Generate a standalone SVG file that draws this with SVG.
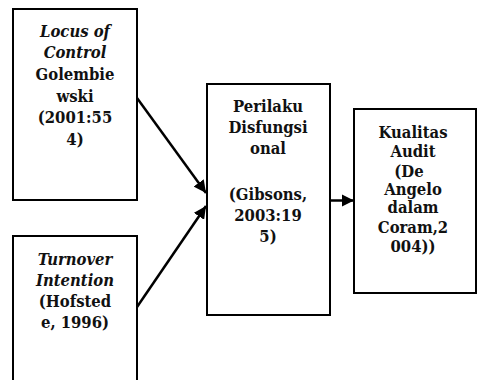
<svg xmlns="http://www.w3.org/2000/svg" width="477" height="380" viewBox="0 0 477 380">
<style>
.box{fill:#fff;stroke:#000;stroke-width:2}
.t{font-family:"DejaVu Serif Condensed","DejaVu Serif","Liberation Serif",serif;font-weight:bold;font-size:16.5px;fill:#111;text-anchor:middle}
.i{font-style:italic}
.c{stroke:#000;stroke-width:2.5;fill:none}
</style>
<defs>
<marker id="ah" viewBox="0 0 10 10" refX="10" refY="5" markerWidth="5" markerHeight="5" orient="auto" markerUnits="strokeWidth">
<path d="M0,0 L10,5 L0,10 z" fill="#000"/>
</marker>
</defs>
<g id="node-locus">
<rect class="box" x="13" y="9" width="124" height="191"/>
<text class="t"><tspan class="i" x="75" y="37">Locus of</tspan><tspan class="i" x="75" y="58">Control</tspan><tspan x="75" y="80">Golembie</tspan><tspan x="75" y="102">wski</tspan><tspan x="75" y="123">(2001:55</tspan><tspan x="75" y="145">4)</tspan></text>
</g>
<g id="node-turnover">
<rect class="box" x="13" y="236" width="124" height="160"/>
<text class="t"><tspan class="i" x="75" y="265">Turnover</tspan><tspan class="i" x="75" y="286">Intention</tspan><tspan x="75" y="307">(Hofsted</tspan><tspan x="75" y="328">e, 1996)</tspan></text>
</g>
<g id="node-perilaku">
<rect class="box" x="207" y="84" width="123" height="231"/>
<text class="t"><tspan x="268" y="112">Perilaku</tspan><tspan x="268" y="133">Disfungsi</tspan><tspan x="268" y="154">onal</tspan><tspan x="268" y="200">(Gibsons,</tspan><tspan x="268" y="221">2003:19</tspan><tspan x="268" y="242">5)</tspan></text>
</g>
<g id="node-kualitas">
<rect class="box" x="354" y="109" width="122" height="184"/>
<text class="t"><tspan x="413" y="138">Kualitas</tspan><tspan x="413" y="157">Audit</tspan><tspan x="409" y="177">(De</tspan><tspan x="413" y="195">Angelo</tspan><tspan x="413" y="213">dalam</tspan><tspan x="413" y="233">Coram,2</tspan><tspan x="413" y="252">004))</tspan></text>
</g>
<g id="connectors">
<line class="c" x1="137" y1="98" x2="206" y2="193" marker-end="url(#ah)"/>
<line class="c" x1="137" y1="307" x2="206" y2="206" marker-end="url(#ah)"/>
<line class="c" x1="330" y1="200.5" x2="354" y2="200.5" marker-end="url(#ah)"/>
</g>
</svg>
